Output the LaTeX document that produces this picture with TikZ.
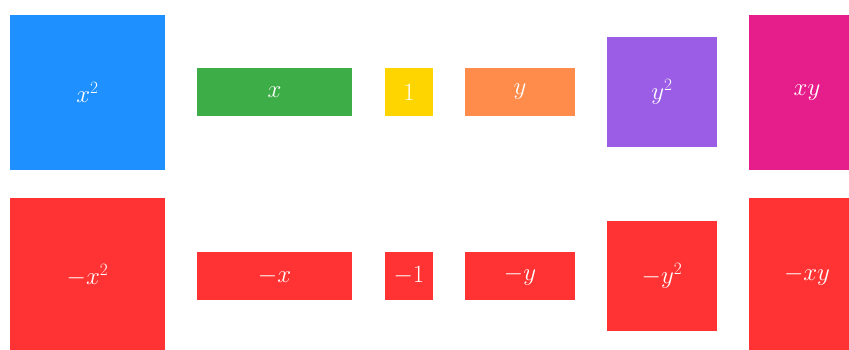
\documentclass[tikz,border=0pt]{standalone}
\definecolor{cblue}{HTML}{1E90FF}
\definecolor{cgreen}{HTML}{3DAE47}
\definecolor{cyellow}{HTML}{FFD500}
\definecolor{corange}{HTML}{FF8C4A}
\definecolor{cpurple}{HTML}{9B5DE5}
\definecolor{cmagenta}{HTML}{E61E8C}
\definecolor{cred}{HTML}{FF3333}
\begin{document}
\begin{tikzpicture}[x=1pt,y=-1pt,
  tile/.style={rectangle, inner sep=0pt, text=white, font=\fontsize{23}{26}\selectfont},
  sq/.style={tile, minimum width=155pt, minimum height=155pt},
  big/.style={tile, minimum width=155pt, minimum height=48pt},
  unit/.style={tile, minimum width=48pt, minimum height=48pt},
  mid/.style={tile, minimum width=110pt, minimum height=48pt},
  ysq/.style={tile, minimum width=110pt, minimum height=110pt}]
\useasboundingbox (0,0) rectangle (849,349);
\clip (0,0) rectangle (849,349);
\fill[white] (0,0) rectangle (849,349);
% top row
\node[sq, fill=cblue] (x2) at (87.5,92.5) {$x^2$};
\node[big, fill=cgreen] (x) at (274.5,92) {$x$};
\node[unit, fill=cyellow] (one) at (409,92) {$1$};
\node[mid, fill=corange] (y) at (520,92) {$y$};
\node[ysq, fill=cpurple] (y2) at (662,92) {$y^2$};
\node[sq, fill=cmagenta] (xy) at (826.5,92.5) {\hspace*{-39pt}$xy$};
% bottom row
\node[sq, fill=cred] (mx2) at (87.5,275.5) {$-x^2$};
\node[big, fill=cred] (mx) at (274.5,276) {$-x$};
\node[unit, fill=cred] (mone) at (409,276) {$-1$};
\node[mid, fill=cred] (my) at (520,276) {$-y$};
\node[ysq, fill=cred] (my2) at (662,276) {$-y^2$};
\node[sq, fill=cred] (mxy) at (826.5,275.5) {\hspace*{-39pt}$-xy$};
\end{tikzpicture}
\end{document}
